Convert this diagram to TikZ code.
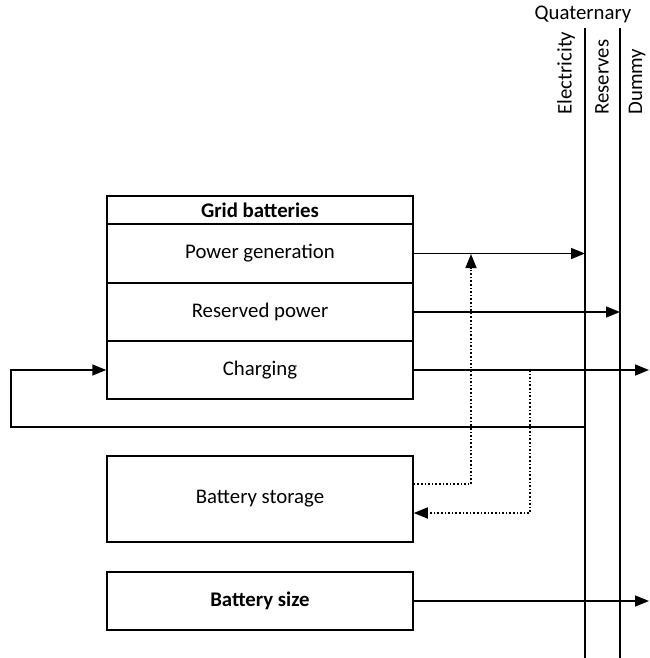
\documentclass[tikz,border=0pt]{standalone}
\usepackage{fontspec}
\setmainfont{Carlito}
\usepackage{tikz}
\usetikzlibrary{arrows.meta, positioning, calc}

\begin{document}
\begin{tikzpicture}[x=0.5pt, y=-0.5pt,
    every node/.style={font=\fontsize{10.4}{12}\selectfont},
    row/.style={draw, line width=0.75pt, inner sep=0pt, minimum width=153pt},
    arr/.style={line width=0.75pt, -{Triangle[length=7pt,width=5.5pt]}},
    dotarr/.style={line width=0.8pt, densely dotted, -{Triangle[length=7pt,width=5.5pt]}}]
    \useasboundingbox (0,0) rectangle (649,658);

    % Grid batteries block, one node per row
    \node[row, minimum height=14pt]   (hdr) at (260,210)   {\textbf{Grid batteries}};
    \node[row, minimum height=29.5pt] (gen) at (260,253.5) {Power generation};
    \node[row, minimum height=29pt]   (res) at (260,312)   {Reserved power};
    \node[row, minimum height=29pt]   (chg) at (260,370)   {Charging};

    % Lower blocks
    \node[row, minimum height=43pt] (stor) at (260,499) {Battery storage};
    \node[row, minimum height=29pt] (size) at (260,601) {\textbf{Battery size}};

    % Quaternary bus lines and their labels
    \coordinate (elecTop) at (585,28);
    \coordinate (elecBot) at (585,658);
    \coordinate (resvTop) at (620,28);
    \coordinate (resvBot) at (620,658);
    \draw[line width=0.75pt] (elecTop) -- (elecBot);
    \draw[line width=0.75pt] (resvTop) -- (resvBot);
    \node (quat) at (583,14) {Quaternary};
    \node[rotate=90, anchor=west, inner sep=0pt] (elec) at (566,115) {Electricity};
    \node[rotate=90, anchor=west, inner sep=0pt] (resv) at (602,115) {Reserves};
    \node[rotate=90, anchor=west, inner sep=0pt] (dumm) at (637,115) {Dummy};

    % Outputs
    \coordinate (rightEnd) at (649,370);
    \draw[arr] (gen.east) -- (gen.east -| elecTop);
    \draw[arr] (res.east) -- (res.east -| resvTop);
    \draw[arr] (chg.east) -- (rightEnd);
    \draw[arr] (size.east) -- (size.east -| rightEnd);

    % Feedback loop from electricity into charging
    \coordinate (loopR) at (585,427);
    \coordinate (loopL) at (11,427);
    \draw[arr] (loopR) -- (loopL) |- (chg.west);

    % Storage links (dotted)
    \coordinate (upBot) at (471,484);
    \coordinate (upTop) at (471,254);
    \draw[dotarr] (upBot -| stor.east) -- (upBot) -- (upTop);
    \coordinate (dnTop) at (530,370);
    \coordinate (dnBot) at (530,513);
    \draw[dotarr] (dnTop) -- (dnBot) -- (dnBot -| stor.east);
\end{tikzpicture}
\end{document}
